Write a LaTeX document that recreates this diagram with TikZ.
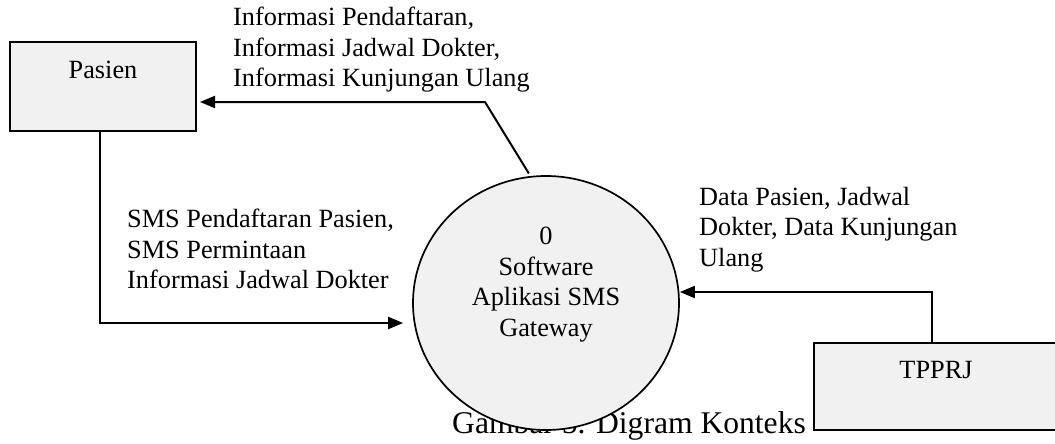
\documentclass[tikz,border=0pt]{standalone}
\usepackage{fontspec}
\setmainfont{Liberation Serif}
\usetikzlibrary{arrows.meta,shapes.geometric}
\definecolor{entityfill}{HTML}{F1F1F1}
\tikzset{
  entity/.style={draw=black, line width=2pt, fill=entityfill, inner sep=0pt},
  process/.style={ellipse, draw=black, line width=1.7pt, fill=entityfill, inner sep=0pt,
                  minimum width=266pt, minimum height=254pt},
  txt/.style={inner sep=0pt, font=\fontsize{26.3}{30.5}\selectfont},
  flowlabel/.style={txt, align=left, anchor=north west},
  flow/.style={draw=black, line width=2pt, -{Triangle[length=15pt,width=12pt]}},
}
\begin{document}
\begin{tikzpicture}[x=1pt,y=-1pt]
\useasboundingbox (0,0) rectangle (1055,444);
\clip (0,0) rectangle (1055,444);

% caption (partly hidden behind the process circle)
\node[txt, font=\fontsize{31.6}{36}\selectfont, anchor=base west] (caption) at (452,433) {Gambar 5. Digram Konteks};

% external entities
\node[entity, minimum width=186pt, minimum height=89pt] (pas) at (103,86.5) {};
\node[txt, anchor=base] (pastext) at (103,78) {Pasien};

\node[entity, minimum width=256pt, minimum height=87pt] (tp) at (942,386.5) {};
\node[txt, anchor=base] (tptext) at (936,378) {TPPRJ};

% process
\node[process] (circ) at (546,303) {};
\node[txt, align=center, anchor=north] (circtext) at (546,227.2)
  {0\\Software\\Aplikasi SMS\\Gateway};

% data flows
\coordinate (topbend) at (485,102);
\draw[flow, shorten <=3pt] (circ.97) -- (topbend) -- ([xshift=3pt]pas.east |- topbend);
\draw[flow] ([xshift=-3pt]pas.south) |- ([xshift=-9pt]circ.west |- 0,323);
\draw[flow] (tp.north -| 932,0) |- (circ.east |- 0,292);

% flow labels
\node[flowlabel] (lbltop) at (233,7)
  {Informasi Pendaftaran,\\Informasi Jadwal Dokter,\\Informasi Kunjungan Ulang};
\node[flowlabel] (lblleft) at (127,209)
  {SMS Pendaftaran Pasien,\\SMS Permintaan\\Informasi Jadwal Dokter};
\node[flowlabel] (lblright) at (699,187)
  {Data Pasien, Jadwal\\Dokter, Data Kunjungan\\Ulang};
\end{tikzpicture}
\end{document}
